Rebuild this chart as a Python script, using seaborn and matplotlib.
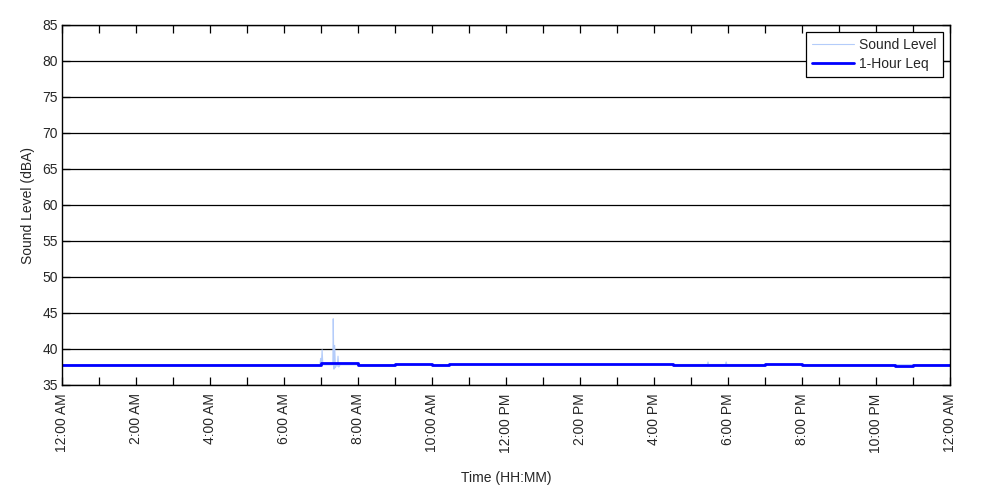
import matplotlib
matplotlib.use('Agg')
import matplotlib.pyplot as plt
import seaborn as sns
import numpy as np

# Data (hours since midnight)
sound_hours = [0.0, 6.97, 6.99, 7.01, 7.03, 7.05, 7.10, 7.32, 7.33, 7.35, 7.37, 7.39, 7.41,
               7.44, 7.46, 7.48, 7.52, 17.44, 17.46, 17.48, 17.93, 17.95, 17.97, 24.0]
sound_level = [37.8, 37.8, 38.7, 37.9, 39.9, 37.8, 37.8, 37.8, 44.2, 37.2, 40.5, 37.4, 37.8,
               37.6, 39.0, 37.5, 37.8, 37.85, 38.2, 37.85, 37.85, 38.2, 37.85, 37.8]

leq_hours = [0.0, 7.0, 8.0, 9.0, 10.0, 10.47, 16.5, 19.0, 20.0, 22.5, 23.0, 24.0]
leq_level = [37.82, 38.06, 37.82, 37.92, 37.78, 37.92, 37.82, 37.92, 37.82, 37.70, 37.82, 37.82]

tick_hours = [0, 2, 4, 6, 8, 10, 12, 14, 16, 18, 20, 22, 24]
tick_labels = ['12:00 AM', '2:00 AM', '4:00 AM', '6:00 AM', '8:00 AM', '10:00 AM', '12:00 PM',
               '2:00 PM', '4:00 PM', '6:00 PM', '8:00 PM', '10:00 PM', '12:00 AM']
y_ticks = [35, 40, 45, 50, 55, 60, 65, 70, 75, 80, 85]

sns.set_style('white')
plt.rcParams['font.family'] = ['Liberation Sans', 'DejaVu Sans']
plt.rcParams['font.size'] = 10

fig = plt.figure(figsize=(10, 5), dpi=100)
ax = fig.add_axes([0.062, 0.23, 0.888, 0.72])

# Raw sound level (light) under the hourly Leq (thick)
sns.lineplot(x=sound_hours, y=sound_level, ax=ax, color='#b4ccfa', linewidth=0.8,
             label='Sound Level', sort=False)
sns.lineplot(x=leq_hours, y=leq_level, ax=ax, color='#0000ff', linewidth=2,
             drawstyle='steps-post', label='1-Hour Leq', sort=False)

ax.set_xlim(0, 24)
ax.set_ylim(35, 85)
ax.set_xticks(tick_hours)
ax.set_xticklabels(tick_labels, rotation=90)
ax.set_xticks(np.arange(0, 25, 1), minor=True)
ax.set_yticks(y_ticks)

# Horizontal black grid only
ax.yaxis.grid(True, color='black', linewidth=0.9)
ax.xaxis.grid(False)
ax.set_axisbelow(True)

ax.tick_params(axis='x', which='both', direction='in', top=True, bottom=True,
               length=6, width=0.9, color='black', labelsize=10, pad=6)
ax.tick_params(axis='y', which='both', direction='in', left=True, right=True,
               length=6, width=0.9, color='black', labelsize=10, pad=3)
for sp in ax.spines.values():
    sp.set_color('black')
    sp.set_linewidth(1)

ax.set_xlabel('Time (HH:MM)', fontsize=10)
ax.set_ylabel('Sound Level (dBA)', fontsize=10)
ax.xaxis.set_label_coords(0.5, -0.238)
ax.yaxis.set_label_coords(-0.030, 0.5)

leg = ax.legend(loc='upper right', fontsize=10, frameon=True, fancybox=False,
                edgecolor='black', framealpha=1, handlelength=3.0, borderaxespad=0.5,
                borderpad=0.45, labelspacing=0.35, handletextpad=0.4)
leg.get_frame().set_linewidth(0.9)

plt.savefig('out.png', dpi=100)
